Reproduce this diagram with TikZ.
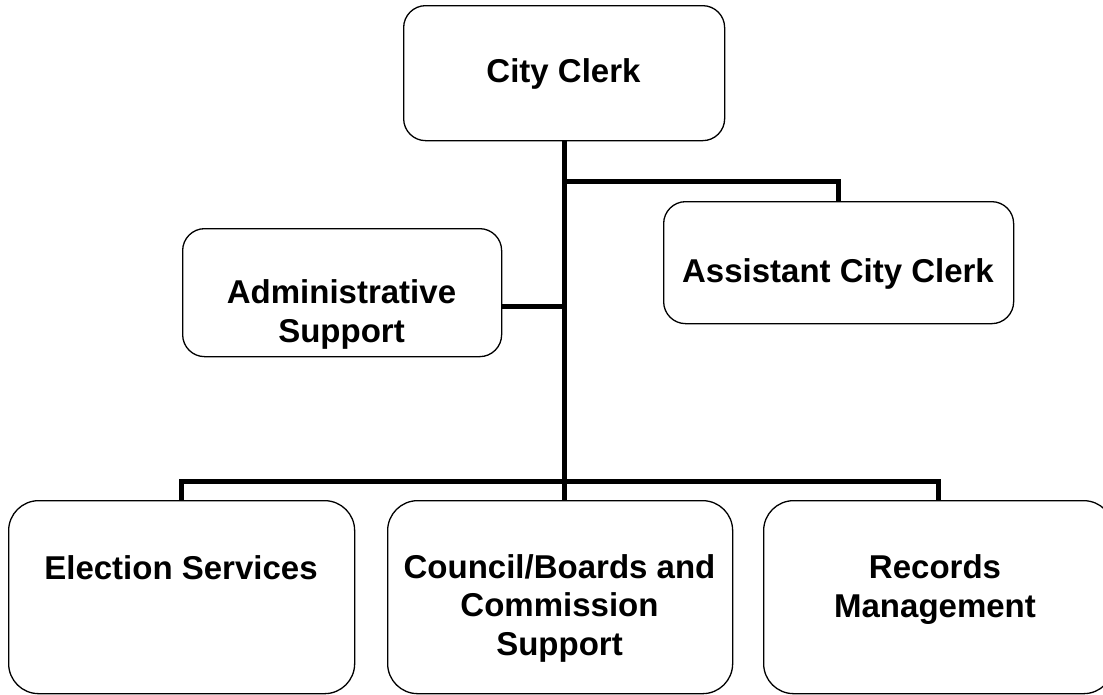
\documentclass[tikz,border=0pt]{standalone}
\usepackage{fontspec}
\setmainfont{Liberation Sans}
\usetikzlibrary{positioning}

\begin{document}
\begin{tikzpicture}[x=1pt,y=-1pt,
    unitbox/.style={rectangle,rounded corners=22pt,draw=black,line width=1.3pt,fill=white,anchor=north west,inner sep=0pt},
    bigbox/.style={unitbox,rounded corners=30pt,minimum height=193pt},
    unittext/.style={font=\bfseries\fontsize{33}{38.5}\selectfont,align=center,anchor=base,inner sep=0pt},
    link/.style={line width=5pt}]
    \useasboundingbox (0,0) rectangle (1103,694);

    % Vertice
    \node[unitbox,minimum width=321pt,minimum height=135pt] (clerk) at (403,5) {};
    \node[unitbox,minimum width=350pt,minimum height=122pt] (asst) at (663,201) {};
    \node[unitbox,minimum width=319pt,minimum height=128pt] (admin) at (182,228) {};

    % Uffici
    \node[bigbox,minimum width=346pt] (elect) at (8,500) {};
    \node[bigbox,minimum width=345pt] (council) at (387,500) {};
    \node[bigbox,minimum width=350pt] (records) at (763,500) {};

    % Collegamenti
    \draw[link] (clerk.south) -- (clerk.south |- council.north);
    \draw[link] ([yshift=-40pt]clerk.south) -| (asst.north);
    \draw[link] ([yshift=-14pt]admin.east) -- ([yshift=-14pt]admin.east -| clerk.south);
    \draw[link] (elect.north) |- ([yshift=19pt]council.north -| clerk.south) -| (records.north);

    % Testi
    \node[unittext] (clerkt) at (563.5,82) {City Clerk};
    \node[unittext] (asstt) at (838,282) {Assistant City Clerk};
    \node[unittext] (admint) at (341.5,342) {Administrative\\Support};
    \node[unittext] (electt) at (181,579) {Election Services};
    \node[unittext] (councilt) at (559.5,655) {Council/Boards and\\Commission\\Support};
    \node[unittext] (recordst) at (935,617) {Records\\Management};
\end{tikzpicture}
\end{document}
